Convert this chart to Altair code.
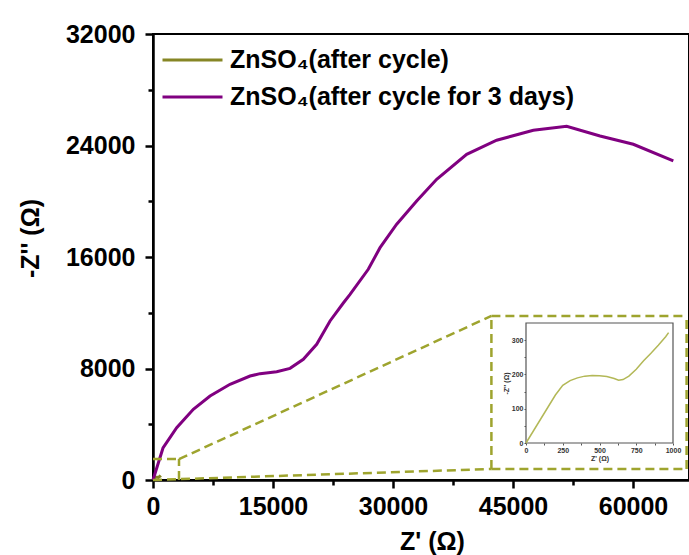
import altair as alt
import pandas as pd

series_names = ["ZnSO₄(after cycle)", "ZnSO₄(after cycle for 3 days)"]
series_colors = ["#868625", "#800080"]

# after cycle for 3 days (main curve)
zre_3d = [0, 1250, 2960, 5040, 7130, 9630, 12130, 13380, 15460, 17130, 18790, 20460,
          22130, 23790, 24630, 26910, 28380, 30460, 32960, 35460, 39210, 42960,
          47540, 51710, 55880, 60040, 65040]
zim_3d = [0, 2300, 3750, 5070, 6030, 6870, 7460, 7630, 7770, 8010, 8660, 9740,
          11410, 12700, 13320, 15120, 16670, 18350, 20020, 21580, 23370, 24380,
          25090, 25380, 24680, 24090, 22890]

# after cycle (small curve, shown in inset)
zre_ac = [0, 50, 100, 150, 200, 250, 300, 350, 400, 450, 500, 550, 600, 630, 660,
          700, 750, 800, 850, 900, 950, 970]
zim_ac = [0, 35, 70, 105, 140, 168, 182, 190, 195, 197, 196, 194, 188, 183, 185,
          195, 215, 240, 262, 285, 310, 322]

x_ticks = [0, 7500, 15000, 22500, 30000, 37500, 45000, 52500, 60000]
y_ticks = [0, 4000, 8000, 12000, 16000, 20000, 24000, 28000, 32000]
inset_x_ticks = [0, 125, 250, 375, 500, 625, 750, 875, 1000]
inset_y_ticks = [0, 50, 100, 150, 200, 250, 300]

zoom_box = [0, 3250, 0, 1500]          # x0, x1, y0, y1 (main coords)
inset_box = [42300, 66700, 790, 11770]  # x0, x1, y0, y1 (main coords)

FONT = "Liberation Sans"
DASH_COLOR = "#9ea42e"

rows = []
for i, (a, b) in enumerate(zip(zre_ac, zim_ac)):
    rows.append({"series": series_names[0], "zre": a, "zim": b, "o": i})
for i, (a, b) in enumerate(zip(zre_3d, zim_3d)):
    rows.append({"series": series_names[1], "zre": a, "zim": b, "o": i})
main_df = pd.DataFrame(rows)

zx0, zx1, zy0, zy1 = zoom_box
bx0, bx1, by0, by1 = inset_box
segs = pd.DataFrame([
    {"sx": zx0, "sy": zy1, "sx2": zx1, "sy2": zy1},
    {"sx": zx1, "sy": zy0, "sx2": zx1, "sy2": zy1},
    {"sx": zx1, "sy": zy1, "sx2": bx0, "sy2": by1},
    {"sx": zx0, "sy": zy0, "sx2": bx0, "sy2": by0},
    {"sx": bx0, "sy": by0, "sx2": bx0, "sy2": by1},
    {"sx": bx0, "sy": by1, "sx2": bx1, "sy2": by1},
    {"sx": bx1, "sy": by0, "sx2": bx1, "sy2": by1},
    {"sx": bx0, "sy": by0, "sx2": bx1, "sy2": by0},
])

x_scale = alt.Scale(domain=[0, 67000], nice=False, zero=False)
y_scale = alt.Scale(domain=[0, 32000], nice=False, zero=False)

x_axis = alt.Axis(
    values=x_ticks,
    labelExpr="datum.value % 15000 === 0 ? format(datum.value, 'd') : ''",
    title="Z' (Ω)", grid=False, labelFlush=False,
    labelFont=FONT, labelFontSize=25, labelFontWeight="bold", labelColor="black",
    labelPadding=6,
    titleFont=FONT, titleFontSize=25, titleFontWeight="bold", titleColor="black",
    titleX=279, titleY=74, titleBaseline="bottom", titleAlign="center",
    domainColor="black", domainWidth=2.5,
    tickColor="black", tickWidth=2.5,
    tickSize=alt.ExprRef(expr="datum.value % 15000 === 0 ? 8 : 5"),
)
y_axis = alt.Axis(
    values=y_ticks,
    labelExpr="datum.value % 8000 === 0 ? format(datum.value, 'd') : ''",
    title="-Z'' (Ω)", grid=False,
    labelFont=FONT, labelFontSize=25, labelFontWeight="bold", labelColor="black",
    labelPadding=10,
    titleFont=FONT, titleFontSize=25, titleFontWeight="bold", titleColor="black",
    titleX=-123, titleY=204, titleAngle=270, titleBaseline="middle", titleAlign="center",
    domainColor="black", domainWidth=2.5,
    tickColor="black", tickWidth=2.5,
    tickSize=alt.ExprRef(expr="datum.value % 8000 === 0 ? 8 : 5"),
)

lines = alt.Chart(main_df).mark_line(strokeWidth=3).encode(
    x=alt.X("zre:Q", scale=x_scale, axis=x_axis),
    y=alt.Y("zim:Q", scale=y_scale, axis=y_axis),
    color=alt.Color(
        "series:N",
        scale=alt.Scale(domain=series_names, range=series_colors),
        legend=alt.Legend(
            title=None, orient="none", legendX=8, legendY=14,
            symbolType="stroke", symbolSize=3600, symbolStrokeWidth=3,
            clipHeight=24,
            labelFont=FONT, labelFontSize=25, labelFontWeight="bold", labelColor="black",
            labelOffset=6, rowPadding=12, padding=0, labelLimit=500,
        ),
    ),
    detail="series:N",
    order="o:Q",
)

dashes = alt.Chart(segs).mark_rule(
    color=DASH_COLOR, strokeWidth=2.5, strokeDash=[9, 5]
).encode(
    x=alt.X("sx:Q", scale=x_scale, axis=x_axis),
    x2="sx2",
    y=alt.Y("sy:Q", scale=y_scale, axis=y_axis),
    y2="sy2",
)

main_layer = alt.layer(lines, dashes)

# inset
ix_scale = alt.Scale(domain=[0, 1000], range=[373, 520], nice=False, zero=False)
iy_scale = alt.Scale(domain=[0, 350], range=[409, 289], nice=False, zero=False)
ix_axis = alt.Axis(
    orient="bottom", offset=-37, values=inset_x_ticks,
    labelExpr="datum.value % 250 === 0 ? format(datum.value, 'd') : ''",
    title="Z' (Ω)", grid=False, domain=False, labelFlush=False,
    labelFont=FONT, labelFontSize=7, labelFontWeight="bold", labelColor="#333",
    labelPadding=1,
    titleFont=FONT, titleFontSize=7, titleFontWeight="bold", titleColor="#333",
    titlePadding=1,
    tickColor="#555", tickWidth=1, tickSize=2,
)
iy_axis = alt.Axis(
    orient="left", offset=-373, values=inset_y_ticks,
    labelExpr="datum.value % 100 === 0 ? format(datum.value, 'd') : ''",
    title="-Z'' (Ω)", grid=False, domain=False,
    labelFont=FONT, labelFontSize=7, labelFontWeight="bold", labelColor="#333",
    labelPadding=1,
    titleFont=FONT, titleFontSize=7, titleFontWeight="bold", titleColor="#333",
    titlePadding=2,
    tickColor="#555", tickWidth=1, tickSize=2,
)

frame_df = pd.DataFrame([{"ix": 0, "ix2": 1000, "iy": 0, "iy2": 350}])
inset_df = pd.DataFrame({"ix": zre_ac, "iy": zim_ac, "o": list(range(len(zre_ac)))})

frame = alt.Chart(frame_df).mark_rect(fill="white", stroke="#555", strokeWidth=1.2).encode(
    x=alt.X("ix:Q", scale=ix_scale, axis=ix_axis),
    x2="ix2",
    y=alt.Y("iy:Q", scale=iy_scale, axis=iy_axis),
    y2="iy2",
)
inset_line = alt.Chart(inset_df).mark_line(color="#b3b857", strokeWidth=1.5).encode(
    x=alt.X("ix:Q", scale=ix_scale, axis=ix_axis),
    y=alt.Y("iy:Q", scale=iy_scale, axis=iy_axis),
    order="o:Q",
)
inset_layer = alt.layer(frame, inset_line)

chart = alt.layer(main_layer, inset_layer).resolve_scale(
    x="independent", y="independent"
).properties(
    width=536, height=446,
    padding={"left": 153, "top": 34, "right": 0, "bottom": 75},
    autosize=alt.AutoSizeParams(type="none"),
    background="white",
).configure_view(stroke="black", strokeWidth=2)

chart.save("out.html", embed_options={"renderer": "svg", "actions": False})
